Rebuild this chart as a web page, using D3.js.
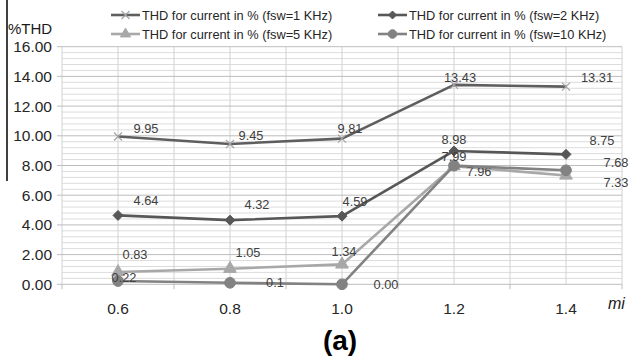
<!DOCTYPE html>
<html>
<head>
<meta charset="utf-8">
<script src="https://cdn.jsdelivr.net/npm/d3@7"></script>
<style>
  body { margin: 0; background: #fff; }
  text { font-family: "Liberation Sans", Arial, sans-serif; }
</style>
</head>
<body>
<script>
// values
const categories = ["0.6", "0.8", "1.0", "1.2", "1.4"];
const thd1k  = [9.95, 9.45, 9.81, 13.43, 13.31];
const thd2k  = [4.64, 4.32, 4.59, 8.98, 8.75];
const thd5k  = [0.83, 1.05, 1.34, 7.96, 7.33];
const thd10k = [0.22, 0.1, 0.00, 7.99, 7.68];
const labels1k  = ["9.95", "9.45", "9.81", "13.43", "13.31"];
const labels2k  = ["4.64", "4.32", "4.59", "8.98", "8.75"];
const labels5k  = ["0.83", "1.05", "1.34", "7.96", "7.33"];
const labels10k = ["0.22", "0.1", "0.00", "7.99", "7.68"];
const yTicks = [0, 2, 4, 6, 8, 10, 12, 14, 16];

const width = 630, height = 359;

const series = [
  { name: "THD for current in % (fsw=1 KHz)", values: thd1k, labels: labels1k,
    line: "#5e5e5e", mark: "#a3a3a3", shape: "x",
    dx: [28, 21, 8, 6, 31], dy: [-8, -9, -10, -7, -9] },
  { name: "THD for current in % (fsw=2 KHz)", values: thd2k, labels: labels2k,
    line: "#575757", mark: "#575757", shape: "diamond",
    dx: [28, 27, 13, 0, 36], dy: [-15, -16, -15, -12, -14] },
  { name: "THD for current in % (fsw=5 KHz)", values: thd5k, labels: labels5k,
    line: "#a8a8a8", mark: "#a8a8a8", shape: "triangle",
    dx: [17, 18, 2, 25, 50], dy: [-18, -16, -13, 5, 7] },
  { name: "THD for current in % (fsw=10 KHz)", values: thd10k, labels: labels10k,
    line: "#828282", mark: "#828282", shape: "circle",
    dx: [6, 45, 44, 0, 50], dy: [-4, 0, 0, -9, -8] }
];

const svg = d3.select("body").append("svg")
  .attr("width", width)
  .attr("height", height);

const x = d3.scaleBand().domain(categories).range([62, 622]).padding(0);
const y = d3.scaleLinear().domain([0, 16]).range([284.3, 46.7]);
const cx = c => x(c) + x.bandwidth() / 2;

// grid
const grid = svg.append("g");
grid.selectAll(".minor")
  .data(d3.range(0, 41).map(i => i * 0.4).filter(v => Math.round(v * 10) % 20 !== 0))
  .enter().append("line")
  .attr("x1", 62).attr("x2", 622)
  .attr("y1", d => y(d)).attr("y2", d => y(d))
  .attr("stroke", "#dcdcdc").attr("stroke-width", 1);

let vlines = [];
categories.forEach(c => { vlines.push(x(c)); vlines.push(cx(c)); });
vlines.push(622);
grid.selectAll(".v")
  .data(vlines)
  .enter().append("line")
  .attr("x1", d => d).attr("x2", d => d)
  .attr("y1", y(16)).attr("y2", y(0))
  .attr("stroke", "#d2d2d2").attr("stroke-width", 1);

grid.selectAll(".major")
  .data(yTicks)
  .enter().append("line")
  .attr("x1", 57).attr("x2", 622)
  .attr("y1", d => y(d)).attr("y2", d => y(d))
  .attr("stroke", "#bdbdbd").attr("stroke-width", 1);

// x tick marks at band edges
grid.selectAll(".xt")
  .data(categories.map(c => x(c)).concat([622]))
  .enter().append("line")
  .attr("x1", d => d).attr("x2", d => d)
  .attr("y1", y(0)).attr("y2", y(0) + 5)
  .attr("stroke", "#bdbdbd");

// axis labels
svg.selectAll(".ylab")
  .data(yTicks)
  .enter().append("text")
  .attr("x", 52)
  .attr("y", d => y(d))
  .attr("dy", "0.36em")
  .attr("text-anchor", "end")
  .attr("font-size", "15.5px")
  .attr("fill", "#262626")
  .text(d => d3.format(".2f")(d));

svg.selectAll(".xlab")
  .data(categories)
  .enter().append("text")
  .attr("x", d => cx(d))
  .attr("y", 308)
  .attr("dy", "0.36em")
  .attr("text-anchor", "middle")
  .attr("font-size", "15.5px")
  .attr("fill", "#262626")
  .text(d => d);

svg.append("text")
  .attr("x", 8).attr("y", 34)
  .attr("font-size", "15px")
  .attr("fill", "#1a1a1a")
  .text("%THD");

svg.append("text")
  .attr("x", 608).attr("y", 309)
  .attr("font-size", "16px")
  .attr("font-style", "italic")
  .attr("fill", "#1a1a1a")
  .text("mi");

svg.append("text")
  .attr("x", 340).attr("y", 350)
  .attr("text-anchor", "middle")
  .attr("font-size", "28px")
  .attr("font-weight", "bold")
  .attr("fill", "#000")
  .text("(a)");

// stray black line on the left edge
svg.append("line")
  .attr("x1", 7).attr("x2", 7)
  .attr("y1", 0).attr("y2", 181)
  .attr("stroke", "#000").attr("stroke-width", 1.5);

function symbolPath(shape, k) {
  k = k || 1;
  if (shape === "diamond") return "M0," + (-5 * k) + "L" + (5 * k) + ",0L0," + (5 * k) + "L" + (-5 * k) + ",0Z";
  if (shape === "triangle") return d3.symbol().type(d3.symbolTriangle).size(70 * k * k)();
  if (shape === "circle") return d3.symbol().type(d3.symbolCircle).size(90 * k * k)();
  return "M-4,-4L4,4M-4,4L4,-4";
}

const line = d3.line()
  .x((d, i) => cx(categories[i]))
  .y(d => y(d));

series.forEach(s => {
  const g = svg.append("g");
  g.append("path")
    .datum(s.values)
    .attr("d", line)
    .attr("fill", "none")
    .attr("stroke", s.line)
    .attr("stroke-width", 2.6)
    .attr("stroke-linejoin", "round");

  g.selectAll(".m")
    .data(s.values)
    .enter().append("path")
    .attr("transform", (d, i) => "translate(" + cx(categories[i]) + "," + y(d) + ")")
    .attr("d", symbolPath(s.shape))
    .attr("fill", s.shape === "x" ? "none" : s.mark)
    .attr("stroke", s.mark)
    .attr("stroke-width", s.shape === "x" ? 1.2 : 1);

  g.selectAll(".lab")
    .data(s.values)
    .enter().append("text")
    .attr("x", (d, i) => cx(categories[i]) + s.dx[i])
    .attr("y", (d, i) => y(d) + s.dy[i])
    .attr("dy", "0.36em")
    .attr("text-anchor", "middle")
    .attr("font-size", "12.8px")
    .attr("fill", "#404040")
    .text((d, i) => s.labels[i]);
});

// legend
const legendPos = [[111, 15], [378, 15], [111, 34], [378, 34]];
series.forEach((s, i) => {
  const lg = svg.append("g")
    .attr("transform", "translate(" + legendPos[i][0] + "," + legendPos[i][1] + ")");
  lg.append("line")
    .attr("x1", 0).attr("x2", 29)
    .attr("stroke", s.line)
    .attr("stroke-width", 2.6);
  lg.append("path")
    .attr("transform", "translate(14.5,0)")
    .attr("d", symbolPath(s.shape, 0.8))
    .attr("fill", s.shape === "x" ? "none" : s.mark)
    .attr("stroke", s.mark)
    .attr("stroke-width", s.shape === "x" ? 1.2 : 1);
  lg.append("text")
    .attr("x", 31)
    .attr("dy", "0.36em")
    .attr("font-size", "12.8px")
    .attr("fill", "#262626")
    .text(s.name);
});
</script>
</body>
</html>
